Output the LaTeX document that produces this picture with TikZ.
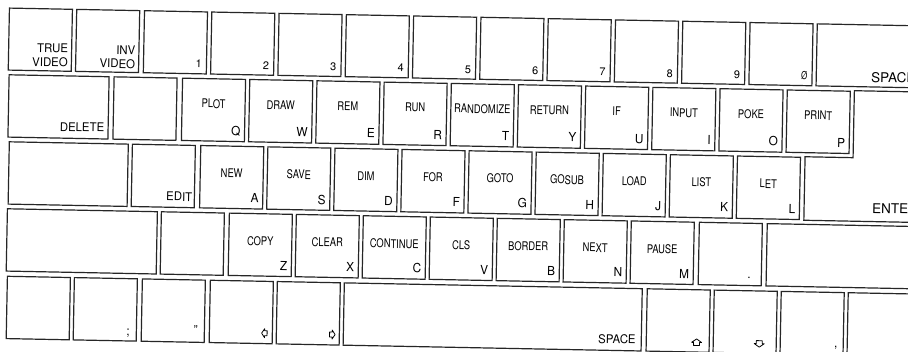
\documentclass[tikz,border=0pt]{standalone}
\usepackage{fontspec}
\setmainfont{TeX Gyre Heros}
\usepackage{graphicx}

\tikzset{
  key/.style={draw=black!85, line width=1.2pt, anchor=north west, inner sep=0pt,
    minimum width=63pt, minimum height=62.3pt},
  kword/.style={font=\fontsize{12pt}{12pt}\selectfont, xscale=.78, inner sep=0pt},
  kchar/.style={font=\fontsize{12.5pt}{12.5pt}\selectfont, xscale=.95, inner sep=0pt, anchor=base east},
  knum/.style={font=\fontsize{11pt}{11pt}\selectfont, inner sep=0pt, anchor=base east},
  kname/.style={font=\fontsize{12pt}{14pt}\selectfont, xscale=.95, inner sep=0pt, align=right},
  kbig/.style={font=\fontsize{13.5pt}{13.5pt}\selectfont, inner sep=0pt, anchor=base west},
  glyph/.style={draw=black, line width=.8pt, line join=round}
}

\begin{document}
\begin{tikzpicture}[x=1pt, y=-1pt]
  % page
  \useasboundingbox (0,0) rectangle (908,351);
  \fill[white] (0,0) rectangle (908,351);
  \clip (0,0) rectangle (908,351);
  \begin{scope}[rotate=-1.12, transform shape]
    % top row
    \node[key, minimum height=62pt] (k-tv) at (9,7.3) {};
    \node[kname, anchor=south east] (t-tv) at ([xshift=-4pt,yshift=4.3pt]k-tv.south east) {TRUE\\VIDEO};
    \node[key, minimum height=62pt] (k-iv) at (76.3,7.3) {};
    \node[kname, anchor=south east] (t-iv) at ([xshift=-4pt,yshift=4.3pt]k-iv.south east) {INV\\VIDEO};
    \foreach \n/\t [count=\i from 2] in {1/1,2/2,3/3,4/4,5/5,6/6,7/7,8/8,9/9,0/{\scalebox{.72}[1]{Ø}}}{
        \node[key, minimum height=62pt] (k-\n) at (9.5+\i*67.3,7.3) {};
        \node[knum] (t-\n) at ([xshift=-5pt,yshift=6.4pt]k-\n.south east) {\t};
      }
    \node[key, minimum height=62pt, minimum width=150pt] (k-sp1) at (817,7.3) {};
    \node[kbig] (t-sp1) at ([xshift=55.4pt,yshift=5.5pt]k-sp1.south west) {SPACE};

    % second row
    \node[key, minimum width=100pt] (k-del) at (10,74) {};
    \node[kname, anchor=base east] (t-del) at ([xshift=-4.3pt,yshift=7.6pt]k-del.south east) {DELETE};
    \node[key] (k-r2) at (115,74) {};
    \foreach \w/\l [count=\i from 0] in {PLOT/Q,DRAW/W,REM/E,RUN/R,RANDOMIZE/T,RETURN/Y,IF/U,INPUT/I,POKE/O,PRINT/P}{
        \node[key] (k-\l) at (183.5+\i*67.2,74) {};
        \node[kword] (w-\l) at ([yshift=-25.5pt]k-\l.north) {\w};
        \node[kchar] (t-\l) at ([xshift=-4.5pt,yshift=6.7pt]k-\l.south east) {\l};
      }
    % enter key
    \draw[draw=black!85, line width=1.2pt] (960,74) -- (856,74) -- (856,141) -- (808,141)
      -- (808,204.5) -- (960,204.5);
    \node[kbig] (t-enter) at (876,196.3) {ENTER};

    % third row
    \node[key, minimum width=119pt] (k-r3) at (11.5,141) {};
    \node[key] (k-edit) at (134.6,141) {};
    \node[kname, anchor=base east] (t-edit) at ([xshift=-2.5pt,yshift=7pt]k-edit.south east) {EDIT};
    \foreach \w/\l [count=\i from 0] in {NEW/A,SAVE/S,DIM/D,FOR/F,GOTO/G,GOSUB/H,LOAD/J,LIST/K,LET/L}{
        \node[key] (k-\l) at (203+\i*67.1,141) {};
        \node[kword] (w-\l) at ([yshift=-27.7pt]k-\l.north) {\w};
        \node[kchar] (t-\l) at ([xshift=-4.5pt,yshift=6.7pt]k-\l.south east) {\l};
      }

    % fourth row
    \node[key, minimum width=150pt] (k-r4) at (10.9,208) {};
    \node[key] (k-r4b) at (164.9,208) {};
    \foreach \w/\l [count=\i from 0] in {COPY/Z,CLEAR/X,CONTINUE/C,CLS/V,BORDER/B,NEXT/N,PAUSE/M}{
        \node[key] (k-\l) at (232.9+\i*67,208) {};
        \node[kword] (w-\l) at ([yshift=-28pt]k-\l.north) {\w};
        \node[kchar] (t-\l) at ([xshift=-4.5pt,yshift=6.7pt]k-\l.south east) {\l};
      }
    \node[key] (k-dot) at (703,208) {};
    \node[kchar] (t-dot) at ([xshift=-11pt,yshift=7.5pt]k-dot.south east) {.};
    \node[key, minimum width=200pt] (k-r4c) at (770.9,208) {};

    % bottom row
    \node[key] (k-r5) at (12.2,275.5) {};
    \node[key] (k-semi) at (79.2,275.5) {};
    \node[kchar] (t-semi) at ([xshift=-7pt,yshift=6.5pt]k-semi.south east) {;};
    \node[key] (k-quote) at (147.2,275.5) {};
    \node[kchar] (t-quote) at ([xshift=-7pt,yshift=8pt]k-quote.south east) {"};
    \node[key] (k-left) at (215.2,275.5) {};
    \node[key] (k-right) at (282.2,275.5) {};
    \node[key, minimum width=298pt] (k-space) at (349.2,275.5) {};
    \node[kname, anchor=base east] (t-space) at ([xshift=-6pt,yshift=7.5pt]k-space.south east) {SPACE};
    \node[key] (k-up) at (652.2,275.5) {};
    \node[key] (k-down) at (719.2,275.5) {};
    \node[key] (k-comma) at (786.2,275.5) {};
    \node[kchar] (t-comma) at ([xshift=-6pt,yshift=8pt]k-comma.south east) {,};
    \node[key] (k-r5b) at (853.2,275.5) {};

    % arrow marks
    \coordinate (g-left) at ([xshift=-8.3pt,yshift=11pt]k-left.south east);
    \coordinate (g-right) at ([xshift=-7.8pt,yshift=11pt]k-right.south east);
    \coordinate (g-up) at ([xshift=-13.2pt,yshift=10.2pt]k-up.south east);
    \coordinate (g-down) at ([xshift=-17.5pt,yshift=10.2pt]k-down.south east);
    \draw[glyph] (g-left) ++(-3,0) -- ++(3,-4.5) -- ++(0,2) -- ++(2.5,0) -- ++(0,5) -- ++(-2.5,0) -- ++(0,2) -- cycle;
    \draw[glyph] (g-right) ++(3,0) -- ++(-3,-4.5) -- ++(0,2) -- ++(-2.5,0) -- ++(0,5) -- ++(2.5,0) -- ++(0,2) -- cycle;
    \draw[glyph] (g-up) ++(0,-3.5) -- ++(5,3.5) -- ++(-2,0) -- ++(0,3) -- ++(-6,0) -- ++(0,-3) -- ++(-2,0) -- cycle;
    \draw[glyph] (g-down) ++(0,3.5) -- ++(5,-3.5) -- ++(-2,0) -- ++(0,-3) -- ++(-6,0) -- ++(0,3) -- ++(-2,0) -- cycle;
  \end{scope}
\end{tikzpicture}
\end{document}
